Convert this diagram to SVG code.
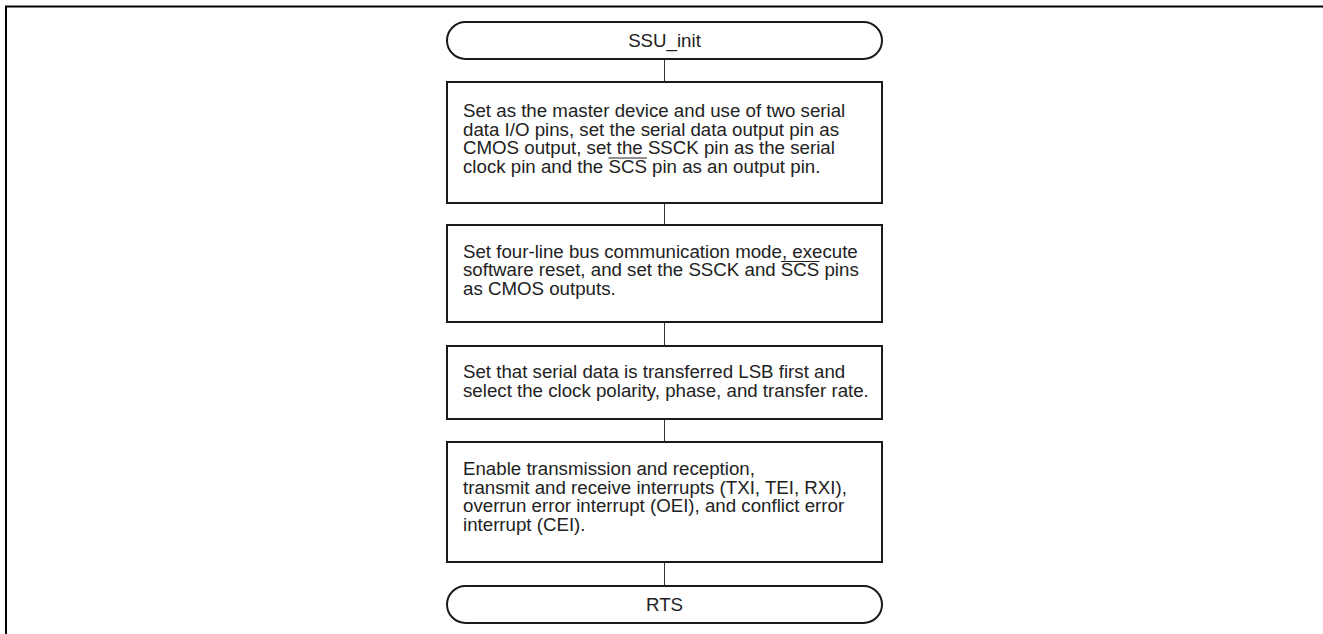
<svg xmlns="http://www.w3.org/2000/svg" width="1323" height="634" viewBox="0 0 1323 634">
  <style>
    .frame { fill: none; stroke: #000; stroke-width: 2; }
    .box { fill: #fff; stroke: #1a1a1a; stroke-width: 2; }
    .link { fill: none; stroke: #333; stroke-width: 1; }
    .t { font-family: "Liberation Sans", Arial, sans-serif; font-size: 18.7px; fill: #222; }
    .c { text-anchor: middle; }
    .bar { stroke: #222; stroke-width: 1.2; }
  </style>
  <rect x="0" y="0" width="1323" height="634" fill="#fff"/>
  <!-- page frame: top and left rules -->
  <path class="frame" d="M6,634 V6.5 H1323"/>

  <!-- connectors -->
  <g id="connectors">
    <line class="link" x1="664.5" y1="59" x2="664.5" y2="82"/>
    <line class="link" x1="664.5" y1="203" x2="664.5" y2="225"/>
    <line class="link" x1="664.5" y1="322" x2="664.5" y2="346"/>
    <line class="link" x1="664.5" y1="419" x2="664.5" y2="442"/>
    <line class="link" x1="664.5" y1="562" x2="664.5" y2="586"/>
  </g>

  <g id="start">
    <rect class="box" x="447" y="22" width="435" height="37" rx="18.5" ry="18.5"/>
    <text class="t c" x="664.5" y="47">SSU_init</text>
  </g>

  <g id="step1">
    <rect class="box" x="447" y="82" width="435" height="121"/>
    <text class="t" x="463" y="117">Set as the master device and use of two serial</text>
    <text class="t" x="463" y="135.5">data I/O pins, set the serial data output pin as</text>
    <text class="t" x="463" y="154">CMOS output, set the SSCK pin as the serial</text>
    <text class="t" x="463" y="172.5">clock pin and the SCS pin as an output pin.</text>
    <!-- active-low bar over SCS -->
    <line class="bar" x1="608.5" y1="158" x2="647" y2="158"/>
  </g>

  <g id="step2">
    <rect class="box" x="447" y="225" width="435" height="97"/>
    <text class="t" x="463" y="257.5">Set four-line bus communication mode, execute</text>
    <text class="t" x="463" y="276">software reset, and set the SSCK and SCS pins</text>
    <text class="t" x="463" y="294.5">as CMOS outputs.</text>
    <line class="bar" x1="781" y1="261.5" x2="819.5" y2="261.5"/>
  </g>

  <g id="step3">
    <rect class="box" x="447" y="346" width="435" height="73"/>
    <text class="t" x="463" y="378">Set that serial data is transferred LSB first and</text>
    <text class="t" x="463" y="396.5">select the clock polarity, phase, and transfer rate.</text>
  </g>

  <g id="step4">
    <rect class="box" x="447" y="442" width="435" height="120"/>
    <text class="t" x="463" y="475">Enable transmission and reception,</text>
    <text class="t" x="463" y="493.5">transmit and receive interrupts (TXI, TEI, RXI),</text>
    <text class="t" x="463" y="512">overrun error interrupt (OEI), and conflict error</text>
    <text class="t" x="463" y="530.5">interrupt (CEI).</text>
  </g>

  <g id="end">
    <rect class="box" x="447" y="586" width="435" height="37" rx="18.5" ry="18.5"/>
    <text class="t c" x="664.5" y="611">RTS</text>
  </g>
</svg>
